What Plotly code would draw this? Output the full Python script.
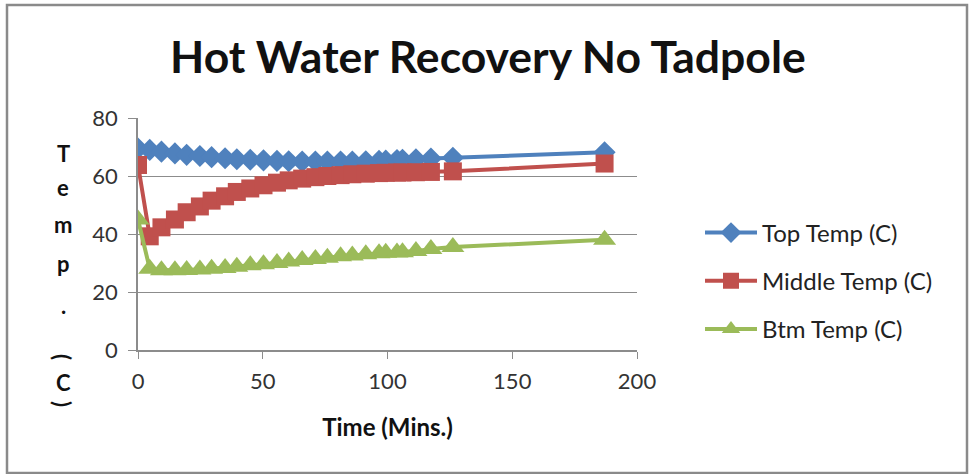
import plotly.graph_objects as go

time_min = [0, 4.7, 9.4, 14.8, 19.5, 24.8, 29.5, 34.9, 39.6, 45, 50.3, 55.7, 60.4, 65.8, 71.1,
            75.9, 81.2, 85.9, 91.3, 96.6, 99.3, 103.8, 106, 111.4, 117.4, 126.2, 187]
top_temp = [69.5, 69, 68.4, 67.8, 67.3, 66.9, 66.5, 66.1, 65.8, 65.6, 65.4, 65.2, 65.1, 65, 65,
            65, 65, 65, 65.1, 65.2, 65.3, 65.5, 65.6, 65.8, 66, 66.3, 68.2]
mid_temp = [63.8, 39.2, 42.3, 45, 47.5, 49.5, 51.5, 53, 54.5, 55.7, 56.8, 57.7, 58.5, 59.1, 59.6,
            60, 60.3, 60.6, 60.8, 61, 61.1, 61.2, 61.2, 61.3, 61.4, 61.6, 64.3]
btm_temp = [45, 28, 27.5, 27.5, 27.6, 27.8, 28, 28.3, 28.7, 29.2, 29.6, 30, 30.5, 31, 31.4,
            31.8, 32.3, 32.6, 33, 33.4, 33.5, 33.6, 33.7, 34.1, 34.8, 35.5, 38]

x_ticks = [0, 50, 100, 150, 200]
y_ticks = [0, 20, 40, 60, 80]
y_title_chars = ["T", "e", "m", "p", ".", "(", "C", ")"]

FONT = "Lato"
fig = go.Figure()
series = [
    ("Top Temp (C)", top_temp, "#4F81BD", "diamond", 17),
    ("Middle Temp (C)", mid_temp, "#C0504D", "square", 18),
    ("Btm Temp (C)", btm_temp, "#9BBB59", "triangle-up", 20),
]
for i, (name, vals, col, sym, sz) in enumerate(series):
    fig.add_trace(go.Scatter(
        x=time_min, y=vals, name=name, mode="lines+markers", legendgroup=f"g{i}",
        line=dict(color=col, width=4),
        marker=dict(symbol=sym, size=sz, color=col, line=dict(width=0)),
    ))

L, R, T, B = 138, 637, 118, 350
W, H = 970, 474
pw, ph = R - L, B - T

def px(x):
    return (x - L) / pw

def py(y):
    return (B - y) / ph

fig.update_layout(
    width=W, height=H,
    margin=dict(l=L, r=W - R, t=T, b=H - B),
    paper_bgcolor="white", plot_bgcolor="white",
    font=dict(family=FONT, size=22, color="#222"),
    title=dict(text="<b>Hot Water Recovery No Tadpole</b>", x=0.503, xanchor="center",
               y=1 - 57 / H, yanchor="middle", font=dict(size=44.5, color="#111", family=FONT)),
    xaxis=dict(range=[0, 200], tickvals=x_ticks, showgrid=False, zeroline=False,
               showline=True, linecolor="#8c8c8c", linewidth=1.5,
               ticks="outside", ticklen=7, tickcolor="#8c8c8c",
               tickfont=dict(size=22, color="#333"), ticklabelstandoff=4,
               title=dict(text="<b>Time (Mins.)</b>", font=dict(size=24, color="#111"), standoff=26)),
    yaxis=dict(range=[0, 80], tickvals=y_ticks, showgrid=True, gridcolor="#8c8c8c", gridwidth=1.2,
               zeroline=False, showline=True, linecolor="#8c8c8c", linewidth=1.5,
               ticks="outside", ticklen=8, tickcolor="#8c8c8c",
               tickfont=dict(size=22, color="#333"), ticklabelstandoff=6),
    legend=dict(x=px(700), y=py(281), xanchor="left", yanchor="middle",
                font=dict(size=24, color="#222"), tracegroupgap=14,
                itemwidth=52, bgcolor="rgba(0,0,0,0)"),
    showlegend=True,
)

# vertical stacked y-axis title
char_y = [153, 187, 224, 263, 305, 357, 382, 404]
for ch, yy in zip(y_title_chars, char_y):
    ang = 90 if ch in "()" else 0
    fig.add_annotation(
        text=f"<b>{ch}</b>", textangle=ang,
        xref="paper", yref="paper", x=px(63), y=py(yy), xanchor="center", yanchor="middle",
        showarrow=False, font=dict(size=22, color="#111", family=FONT),
    )

# chart border
fig.add_shape(type="rect", xref="paper", yref="paper",
              x0=px(7), x1=px(967), y0=py(473), y1=py(5),
              line=dict(color="#8a8a8a", width=2.5), layer="below")

fig.write_html("out.html", config={"displayModeBar": False},
               post_script="document.body.style.margin='0';document.body.style.overflow='hidden';")
